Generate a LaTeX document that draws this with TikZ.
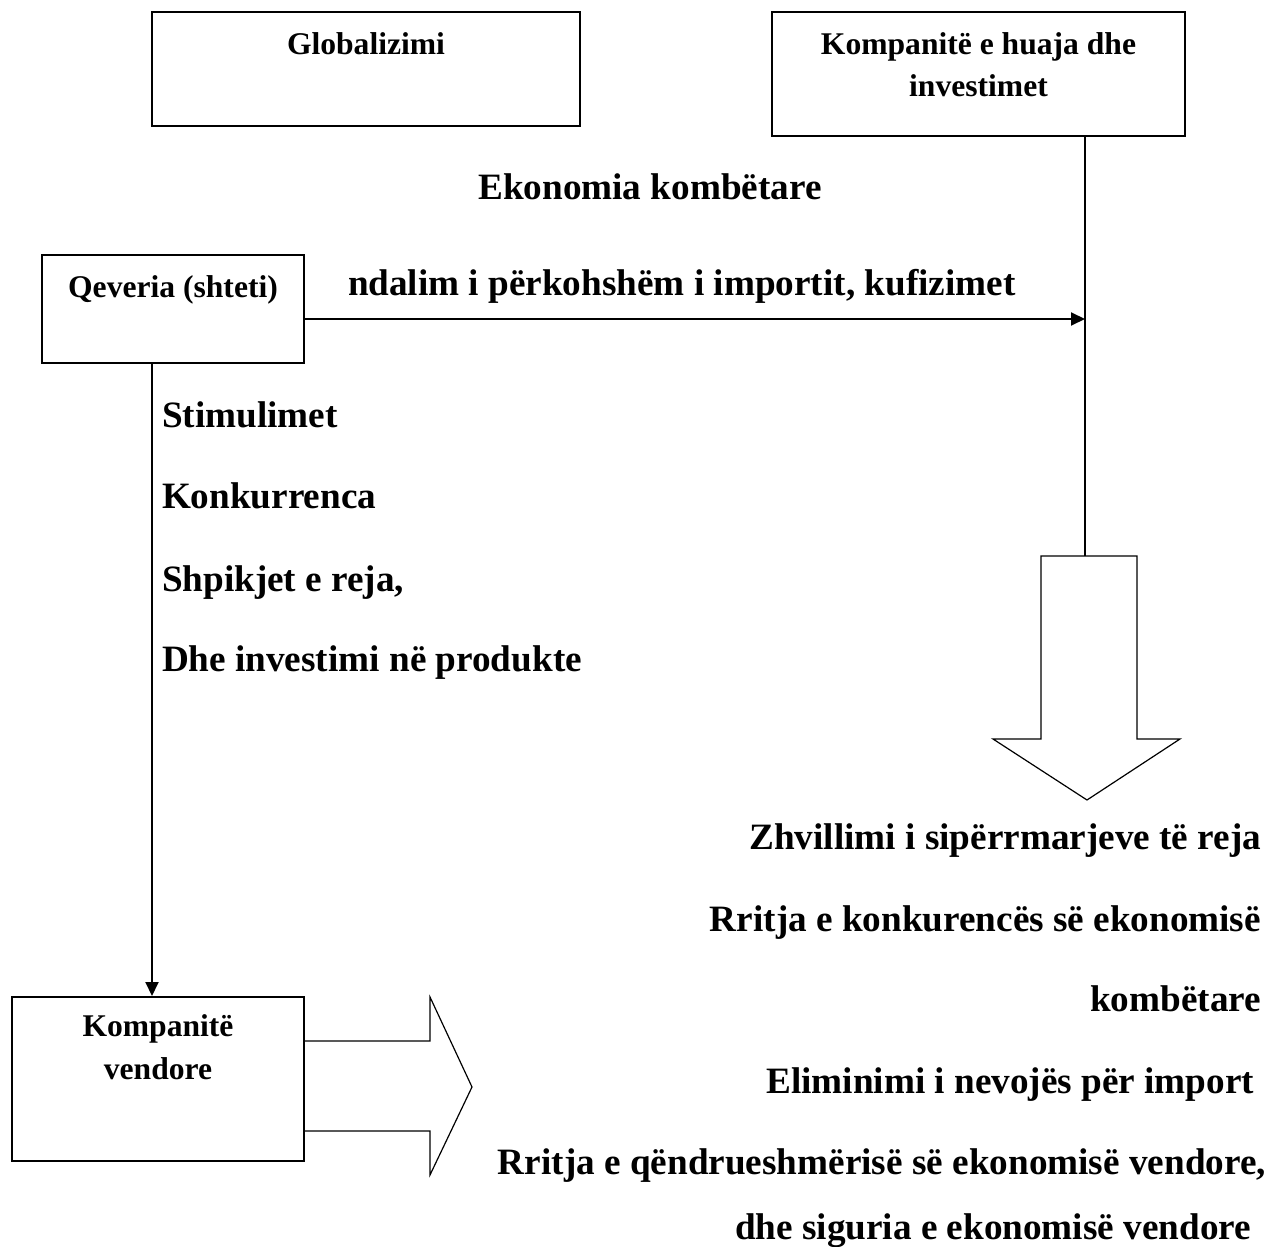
\documentclass[tikz,border=0pt]{standalone}
\usepackage{fontspec}
\setmainfont{Liberation Serif}
\usetikzlibrary{arrows.meta,positioning}

\begin{document}
\begin{tikzpicture}[x=0.5pt,y=-0.5pt,>={Triangle[length=7pt,width=6.5pt]},line width=1pt]
\tikzstyle{box} = [rectangle, draw, line width=1pt, inner sep=0pt]
\tikzstyle{boxtext} = [font=\fontsize{15.8}{21}\selectfont\bfseries, align=center, inner sep=0pt]
\tikzstyle{bigtext} = [font=\fontsize{18.6}{22}\selectfont\bfseries, inner sep=0pt]
\tikzstyle{blockarrow} = [draw, line width=0.6pt, fill=white]
\useasboundingbox (0,0) rectangle (1271,1247);

% boxes
\node[box, minimum width=214pt, minimum height=57pt] (GL) at (366,69) {};
\node[box, minimum width=206.5pt, minimum height=62pt] (KH) at (978.5,74) {};
\node[box, minimum width=131pt, minimum height=54pt] (QV) at (173,309) {};
\node[box, minimum width=146pt, minimum height=82pt] (KV) at (158,1079) {};
\node[boxtext, below=10.5pt of GL.north] (GLt) {Globalizimi};
\node[boxtext, below=10.5pt of KH.north] (KHt) {Kompanitë e huaja dhe\\investimet};
\node[boxtext, below=10.5pt of QV.north] (QVt) {Qeveria (shteti)};
\node[boxtext, below=9pt of KV.north, font=\fontsize{15.8}{21.5}\selectfont\bfseries] (KVt) {Kompanitë\\vendore};

% texts
\node[bigtext, anchor=base] (EK) at (650,200) {Ekonomia kombëtare};
\node[bigtext, anchor=base west] (ND) at (347,295) {ndalim i përkohshëm i importit, kufizimet};
\node[bigtext, anchor=base west] (ST) at (161,427) {Stimulimet};
\node[bigtext, anchor=base west] (KO) at (161,508) {Konkurrenca};
\node[bigtext, anchor=base west] (SH) at (161,591) {Shpikjet e reja,};
\node[bigtext, anchor=base west] (DI) at (161,671) {Dhe investimi në produkte};
\node[bigtext, anchor=base east] (ZH) at (1262,849) {Zhvillimi i sipërrmarjeve të reja};
\node[bigtext, anchor=base east] (RK) at (1262,931) {Rritja e konkurencës së ekonomisë};
\node[bigtext, anchor=base east] (KB) at (1262,1011) {kombëtare};
\node[bigtext, anchor=base east] (EL) at (1255,1093) {Eliminimi i nevojës për import};
\node[bigtext, anchor=base east] (RQ) at (1267,1174) {Rritja e qëndrueshmërisë së ekonomisë vendore,};
\node[bigtext, anchor=base east] (DS) at (1252,1239) {dhe siguria e ekonomisë vendore};

% connectors
\coordinate (IMP) at (1085,319);
\coordinate (DA) at (1085,556);
\coordinate (VX) at (152,0);
\draw (KH.south -| DA) -- (DA);
\draw[->] (QV.east |- IMP) -- (IMP);
\draw[->] (QV.south -| VX) -- (KV.north -| VX);

% block arrows
\draw[blockarrow] (1041,556) -- (1137,556) -- (1137,739) -- (1180,739) -- (1087,800)
  -- (993,739) -- (1041,739) -- cycle;
\draw[blockarrow] ([yshift=19pt]KV.east) -- ++(125,0) -- ++(0,-44) -- ++(42,90)
  -- ++(-42,88) -- ++(0,-44) -- ([yshift=-26pt]KV.east);
\end{tikzpicture}
\end{document}
